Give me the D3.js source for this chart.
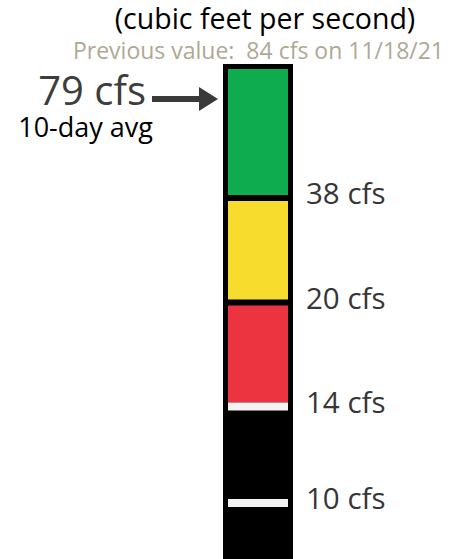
<!DOCTYPE html>
<html>
<head>
<meta charset="utf-8">
<script src="https://cdn.jsdelivr.net/npm/d3@7"></script>
<style>
  body { margin: 0; background: #fff; }
  text { font-family: "Open Sans", "DejaVu Sans", sans-serif; }
</style>
</head>
<body>
<script>
// flow gauge data
var currentValue = 79;
var currentLabel = "79 cfs";
var currentNote = "10-day avg";
var previousText = "Previous value:  84 cfs on 11/18/21";
var unitText = "(cubic feet per second)";

var thresholds = [38, 20, 14];          // band edges, top to bottom
var bandColors = ["#0fab4f", "#f7dc2e", "#ec3340"];
var markerValues = [14, 10];            // white tick marks in the black part
var tickValues = [38, 20, 14, 10];
var tickLabels = ["38 cfs", "20 cfs", "14 cfs", "10 cfs"];

var width = 451, height = 559;

var svg = d3.select("body").append("svg")
  .attr("width", width)
  .attr("height", height);

// gauge is not linear, the steps are drawn about evenly spaced
var y = d3.scaleLinear()
  .domain([79, 38, 20, 14, 10])
  .range([99, 198, 302.5, 406.5, 503]);

var barX = 223, barW = 70, border = 5, barTop = 64;

// black body of the gauge
svg.append("rect")
  .attr("x", barX)
  .attr("y", barTop)
  .attr("width", barW)
  .attr("height", height - barTop + 10)
  .attr("fill", "#000");

// coloured bands
for (let i = 0; i < bandColors.length; i++) {
  let top = i == 0 ? barTop + border : y(thresholds[i - 1]) + 3;
  let bottom = i == bandColors.length - 1 ? y(thresholds[i]) - 4 : y(thresholds[i]) - 3;
  svg.append("rect")
    .attr("x", barX + border)
    .attr("y", top)
    .attr("width", barW - 2 * border)
    .attr("height", bottom - top)
    .attr("fill", bandColors[i]);
}

// white markers
svg.selectAll("rect.marker")
  .data(markerValues)
  .enter().append("rect")
  .attr("class", "marker")
  .attr("x", barX + border)
  .attr("y", function(d){ return y(d) - 4; })
  .attr("width", barW - 2 * border)
  .attr("height", 8)
  .attr("fill", "#f4f3f3");

// tick labels on the right
svg.selectAll("text.tick")
  .data(tickValues)
  .enter().append("text")
  .attr("class", "tick")
  .attr("x", 306)
  .attr("y", function(d){ return y(d) + 6; })
  .style("font-size", "29.5px")
  .style("fill", "#363636")
  .text(function(d, i){ return tickLabels[i]; });

// arrow to the current value
var ay = y(currentValue);
svg.append("path")
  .attr("d", "M152," + (ay - 3) + "H199V" + (ay - 12) + "L218," + ay +
             "L199," + (ay + 12) + "V" + (ay + 3) + "H152Z")
  .attr("fill", "#3a3a3a");

svg.append("text")
  .attr("x", 146)
  .attr("y", ay + 6)
  .style("text-anchor", "end")
  .style("font-size", "40px")
  .style("fill", "#3d3d3d")
  .text(currentLabel);

svg.append("text")
  .attr("x", 153)
  .attr("y", 137)
  .style("text-anchor", "end")
  .style("font-size", "27px")
  .style("fill", "#000")
  .text(currentNote);

// header texts
svg.append("text")
  .attr("x", 265)
  .attr("y", 29)
  .style("text-anchor", "middle")
  .style("font-size", "28.5px")
  .style("fill", "#000")
  .text(unitText);

svg.append("text")
  .attr("x", 258.5)
  .attr("y", 59)
  .style("text-anchor", "middle")
  .style("font-size", "23px")
  .style("white-space", "pre")
  .style("fill", "#b0a894")
  .text(previousText);
</script>
</body>
</html>
